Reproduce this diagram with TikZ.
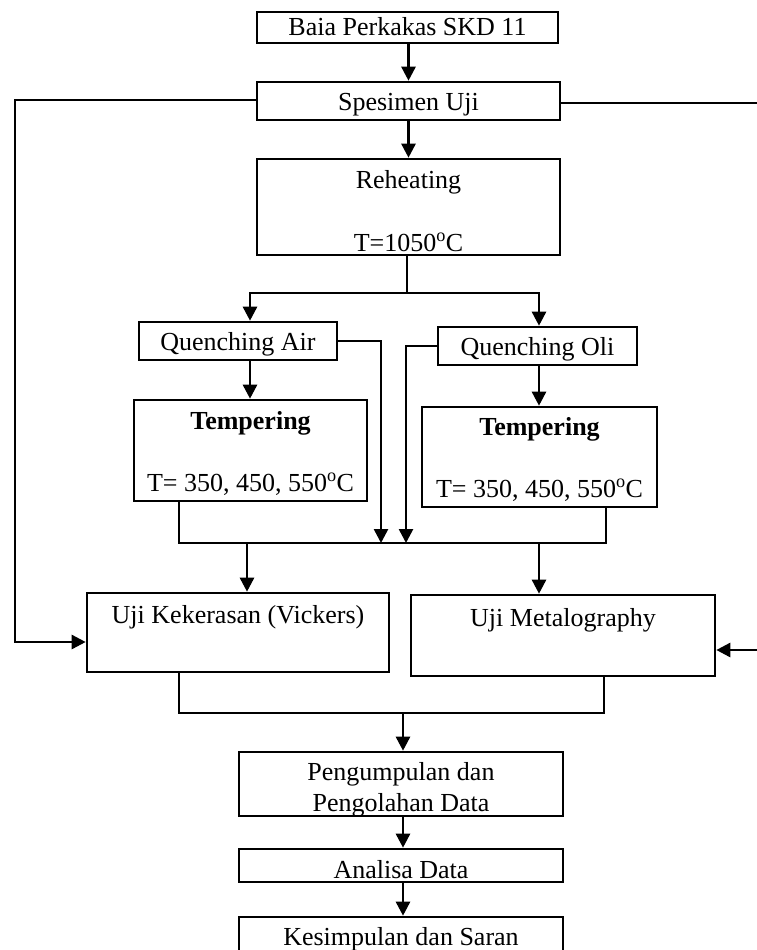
\documentclass[tikz,border=0pt]{standalone}
\usepackage{fontspec}
\setmainfont{Liberation Serif}
\usetikzlibrary{arrows.meta}
\newcommand\dfont{\fontsize{26}{30}\selectfont}
\begin{document}
\begin{tikzpicture}[x=1pt,y=-1pt,
  box/.style={draw, line width=2.6pt, rectangle, inner sep=0pt},
  lbl/.style={anchor=base, inner sep=0pt, font=\dfont},
  arr/.style={line width=2.6pt, -{Triangle[length=14pt,width=14pt]}},
  ln/.style={line width=2.6pt}]
\useasboundingbox (0,0) rectangle (757,950);
% boxes
\node[box, minimum width=301pt, minimum height=31pt] (b1) at (407.5,27.5) {};
\node[box, minimum width=303pt, minimum height=38pt] (spes) at (408.5,101) {};
\node[box, minimum width=303pt, minimum height=96pt] (reh) at (408.5,207) {};
\node[box, minimum width=198pt, minimum height=38pt] (qa) at (238,341) {};
\node[box, minimum width=199pt, minimum height=38pt] (qo) at (537.5,346) {};
\node[box, minimum width=233pt, minimum height=101pt] (tl) at (250.5,450.5) {};
\node[box, minimum width=235pt, minimum height=100pt] (tr) at (539.5,457) {};
\node[box, minimum width=302pt, minimum height=79pt] (uk) at (238,632.5) {};
\node[box, minimum width=304pt, minimum height=81pt] (um) at (563,635.5) {};
\node[box, minimum width=324pt, minimum height=64pt] (peng) at (401,784) {};
\node[box, minimum width=324pt, minimum height=33pt] (ana) at (401,865.5) {};
\node[box, minimum width=324pt, minimum height=36pt] (kes) at (401,935) {};
% texts
\node[lbl] (t1) at (407.5,36) {Baia Perkakas SKD 11};
\node[lbl] (t2) at (408.5,110) {Spesimen Uji};
\node[lbl] (t3) at (408.5,188) {Reheating};
\node[lbl] (t4) at (408.5,251) {T=1050\textsuperscript{o}C};
\node[lbl] (t5) at (238,350) {Quenching Air};
\node[lbl] (t6) at (537.5,355) {Quenching Oli};
\node[lbl, font=\dfont\bfseries] (t7) at (250.5,429) {Tempering};
\node[lbl] (t8) at (250.5,491) {T= 350, 450, 550\textsuperscript{o}C};
\node[lbl, font=\dfont\bfseries] (t9) at (539.5,435) {Tempering};
\node[lbl] (t10) at (539.5,497) {T= 350, 450, 550\textsuperscript{o}C};
\node[lbl] (t11) at (238,623) {Uji Kekerasan (Vickers)};
\node[lbl] (t12) at (563,626) {Uji Metalography};
\node[lbl] (t13) at (401,780) {Pengumpulan dan};
\node[lbl] (t14) at (401,811) {Pengolahan Data};
\node[lbl] (t15) at (401,878) {Analisa Data};
\node[lbl] (t16) at (401,945) {Kesimpulan dan Saran};
% coordinates
\coordinate (l1) at (15,100);
\coordinate (l2) at (15,642);
\coordinate (r1) at (759,103);
\coordinate (r2) at (759,650);
\coordinate (s0) at (407,293);
\coordinate (sa) at (250,293);
\coordinate (sb) at (539,293);
\coordinate (m1) at (381,543);
\coordinate (m2) at (406,543);
\coordinate (c1) at (179,543);
\coordinate (c2) at (606,543);
\coordinate (d1) at (247,543);
\coordinate (d2) at (539,543);
\coordinate (e1) at (179,713);
\coordinate (e2) at (604,713);
\coordinate (e0) at (403,713);
% connectors
\draw[arr] (b1.south -| spes.north) -- (spes.north);
\draw[arr] (spes.south) -- (reh.north);
\draw[arr] (spes.west |- l1) -- (l1) -- (l2) -- (l2 -| uk.west);
\draw[arr] (spes.east |- r1) -- (r1) -- (r2) -- (r2 -| um.east);
\draw[ln] (reh.south -| s0) -- (s0);
\draw[arr] (s0) -- (sa) -- (sa |- qa.north);
\draw[arr] (s0) -- (sb) -- (sb |- qo.north);
\draw[arr] (sa |- qa.south) -- (sa |- tl.north);
\draw[arr] (sb |- qo.south) -- (sb |- tr.north);
\draw[arr] (qa.east) -| (m1);
\draw[arr] (qo.west) -| (m2);
\draw[ln] (c1 |- tl.south) -- (c1) -- (c2) -- (c2 |- tr.south);
\draw[arr] (d1) -- (d1 |- uk.north);
\draw[arr] (d2) -- (d2 |- um.north);
\draw[ln] (e1 |- uk.south) -- (e1) -- (e2) -- (e2 |- um.south);
\draw[arr] (e0) -- (e0 |- peng.north);
\draw[arr] (e0 |- peng.south) -- (e0 |- ana.north);
\draw[arr] (e0 |- ana.south) -- (e0 |- kes.north);
\end{tikzpicture}
\end{document}
